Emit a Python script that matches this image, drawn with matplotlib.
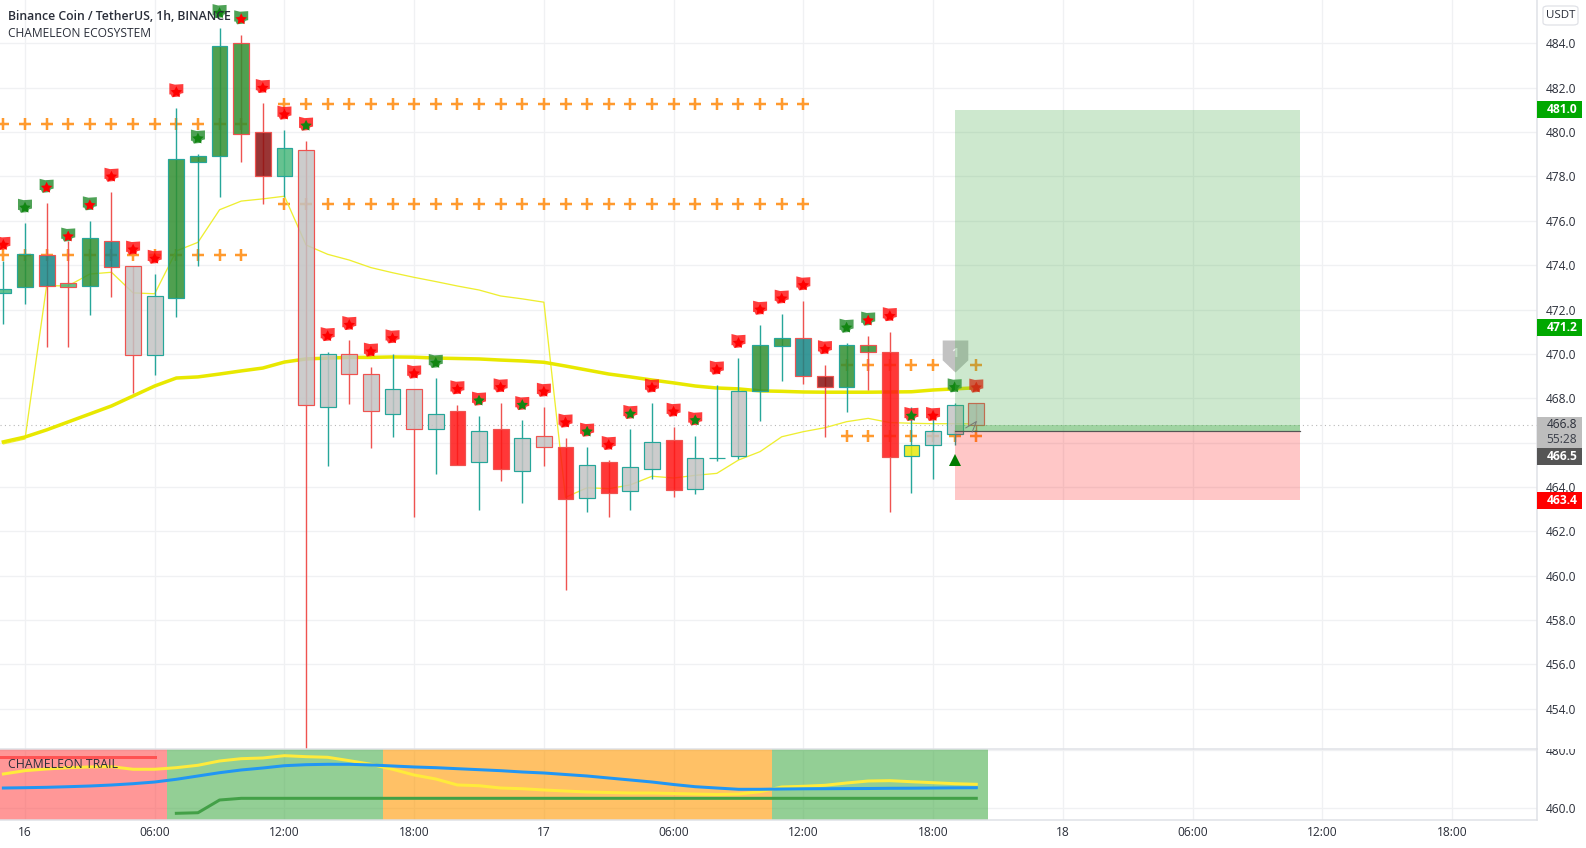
import matplotlib
matplotlib.use("Agg")
import matplotlib.pyplot as plt
from matplotlib.colors import to_rgba
from matplotlib.path import Path
from matplotlib.patches import Rectangle, FancyBboxPatch
from matplotlib import transforms as mtrans
from matplotlib.transforms import Bbox

plt.rcParams['font.family'] = ['Open Sans', 'DejaVu Sans']

hours = list(range(-1, 45))
highs = [474.19,475.90,476.80,475.09,475.99,477.30,473.98,473.60,481.09,479.01,484.70,484.38,481.31,480.10,479.60,
         470.09,470.63,469.41,469.99,468.40,468.91,467.68,467.20,467.78,467.02,467.60,466.21,465.80,465.21,466.61,467.78,466.70,466.30,
         468.60,469.81,471.30,471.78,472.37,469.50,470.48,470.81,470.99,467.60,467.47,467.77,467.77]
body_top = [472.91,474.49,474.47,473.18,475.21,475.08,473.98,472.60,478.78,478.91,483.87,484.01,479.99,479.27,479.18,
            469.98,469.98,469.08,468.40,468.40,467.27,467.41,466.51,466.60,466.19,466.28,465.79,464.97,465.11,464.89,466.01,466.10,465.29,
            465.30,468.31,470.39,470.70,470.70,468.99,470.39,470.39,470.07,465.88,466.51,467.68,467.77]
body_bot = [472.76,473.00,473.07,473.00,473.07,473.90,469.95,469.95,472.51,478.67,478.91,479.90,478.01,478.01,467.68,
            467.59,469.08,467.41,467.27,466.60,466.60,464.97,465.11,464.80,464.70,465.79,463.47,463.49,463.71,463.80,464.80,463.87,463.89,
            465.29,465.38,468.31,470.37,468.99,468.49,468.49,470.07,465.36,465.38,465.88,466.37,466.78]
lows = [471.35,472.25,470.31,470.31,471.77,472.58,468.24,469.05,471.68,473.98,477.09,478.67,476.77,477.09,452.00,
        464.96,467.75,465.77,466.26,462.66,464.60,464.97,462.97,464.28,463.29,464.96,459.36,462.88,462.66,462.97,464.37,463.56,463.69,
        465.17,465.26,466.99,468.79,468.66,466.26,467.39,468.38,462.88,463.71,464.37,465.88,466.52]
# g=green m=mint t=teal d=dark red e=grey r=red y=yellow
body_kind = ['m','g','t','m','g','t','e','e','g','g','g','g','d','m','e',
             'e','e','e','e','e','e','r','e','r','e','e','r','e','r','e','e','r','e',
             'm','e','g','g','t','d','g','g','r','y','e','e','e']
body_edge = ['t','t','r','r','t','r','r','t','t','t','t','r','r','t','r',
             't','r','r','t','r','t','r','t','r','t','r','r','t','r','t','t','r','t',
             't','t','t','t','r','r','t','r','r','t','t','t','r']

flag_price = [475.00,476.68,477.58,475.38,476.79,478.08,474.79,474.38,481.89,479.80,485.46,485.18,482.08,480.88,480.38,
              470.89,471.39,470.19,470.79,469.20,469.68,468.49,467.98,468.58,467.78,468.38,466.99,466.58,465.98,467.38,468.57,467.48,467.09,
              469.38,470.58,472.08,472.58,473.18,470.30,471.27,471.59,471.79,467.29,467.29,468.58,468.57]
flag_color = list("rggggrrrrgggrrr" "rrrrrgrrrrrrrrrrrr" "rrrrrrggrrrgr")
star_color = list("rgrrrrrrrgg" "rrrg" "rrrrrgrgrgrrgrgrrg" "rrrrrrgrrgrgr")

trail_thin = [465.94,466.16,473.07,473.07,473.60,473.68,472.75,472.71,474.64,475.03,476.50,476.89,476.99,477.11,474.91,474.49,474.23,473.89,473.66,473.45,473.26,473.06,472.88,472.61,472.48,472.33,
              463.53,463.96,463.92,464.09,464.48,464.40,464.52,464.61,465.21,465.59,466.26,466.49,466.67,466.94,467.09,466.90,466.87,466.85,466.85,466.84]
ema_thick = [466.03,466.25,466.57,466.93,467.29,467.65,468.10,468.55,468.91,468.96,469.09,469.23,469.36,469.63,469.77,469.81,469.84,469.84,469.86,469.85,469.81,469.79,469.77,469.72,469.68,469.62,
             469.45,469.27,469.09,468.96,468.82,468.69,468.55,468.46,468.42,468.33,468.31,468.28,468.27,468.27,468.27,468.28,468.29,468.37,468.42,468.47]

plus_rows = [
    (list(range(12, 37)), 481.27),
    (list(range(-1, 11)), 480.37),
    (list(range(12, 37)), 476.76),
    (list(range(-1, 11)), 474.46),
    (list(range(38, 45)), 469.50),
    (list(range(38, 45)), 466.30),
]

position_span = (43.0, 58.95)
position_entry = 466.5
position_band = 466.8
position_target = 481.0
position_stop = 463.4
last_price = 466.8

price_ticks = [454, 456, 458, 460, 462, 464, 468, 470, 472, 474, 476, 478, 480, 482, 484]
grid_extra = [466]
sub_ticks = [460, 480]
time_pos = [0, 6, 12, 18, 24, 30, 36, 42, 48, 54, 60, 66]
time_labels = ['16', '06:00', '12:00', '18:00', '17', '06:00', '12:00', '18:00', '18', '06:00', '12:00', '18:00']

zone_edges = [-2, 6.55, 16.57, 34.55, 44.55]
zone_colors = ['#ff5252', '#4caf4e', '#ff9800', '#4caf4e']

sub_yellow = [471.77,472.90,473.48,473.93,474.17,474.27,473.38,473.38,473.93,474.75,476.22,477.01,477.25,478.04,477.70,477.49,476.33,475.09,473.38,471.42,470.05,468.00,467.75,466.96,466.72,
              466.28,465.93,465.59,465.42,465.25,465.25,465.08,464.90,464.73,464.90,465.69,467.31,467.55,467.89,468.68,469.36,469.47,469.12,468.78,468.44,468.23]
sub_blue = [466.96,467.07,467.20,467.41,467.65,467.99,468.44,469.02,469.95,471.08,472.21,473.14,473.82,474.61,474.95,475.09,475.09,474.85,474.51,474.17,473.93,473.58,473.24,472.90,472.45,
            472.11,471.59,471.08,470.39,469.71,469.02,468.16,467.41,466.96,466.52,466.52,466.62,466.69,466.72,466.76,466.79,466.86,466.89,466.96,467.03,467.07]
sub_green_x = list(range(7, 45))
sub_green = [458.29,458.49,462.85,463.43,463.43,463.43,463.43,463.43,463.43,463.43,463.43,463.43,463.43,463.43,463.43,463.43,463.43,463.43,463.43,
             463.43,463.43,463.43,463.43,463.43,463.43,463.43,463.43,463.43,463.43,463.43,463.43,463.43,463.43,463.43,463.43,463.43,463.43,463.43]
sub_red_x = list(range(-2, 7))
sub_red = [477.49,477.49,477.49,477.49,477.49,477.49,477.49,477.49,477.49]

FILL = {'g': '#318f31', 'm': '#4bb87d', 't': '#168686', 'd': '#891111',
        'e': '#c3c3c3', 'r': '#ff1515', 'y': '#e9e90b'}
EDGE = {'t': '#26a69a', 'r': '#ef5350'}
FLAG = {'r': '#ff1a1a', 'g': '#2f9238'}
STAR = {'r': '#ff0000', 'g': '#128612'}
BORDER = '#dfe1e6'
GRID = '#f0f1f3'
TEXT = '#2a2e39'

W, H = 1586, 848
AX_R, SEP, BOT = 1536.7, 748.5, 820.0
fig = plt.figure(figsize=(W / 100, H / 100), dpi=100, facecolor='white')
ax = fig.add_axes([0, (H - SEP) / H, AX_R / W, SEP / H])
ax2 = fig.add_axes([0, (H - BOT) / H, AX_R / W, (BOT - SEP) / H], sharex=ax)
px = 72 / 100  # points per pixel

ax.set_xlim(-1.156, 69.92)
ax.set_ylim(452.2, 485.96)
ax2.set_ylim(456.0, 480.5)

for a in (ax, ax2):
    a.set_axisbelow(True)
    a.grid(True, color=GRID, lw=1 * px * 1.3)
    for s in ('left', 'top', 'bottom', 'right'):
        a.spines[s].set_visible(False)
    a.yaxis.tick_right()
    a.tick_params(length=0, labelsize=12 * px, labelcolor=TEXT, pad=9.5 * px)
    a.spines['right'].set_visible(True)
    a.spines['right'].set_color(BORDER)
    a.spines['right'].set_linewidth(1.5 * px)

ax.set_xticks(time_pos)
ax.tick_params(axis='x', labelbottom=False)
ax.set_yticks(price_ticks)
ax.set_yticklabels([f'{v:.1f}' for v in price_ticks])
for v in grid_extra:
    ax.axhline(v, color=GRID, lw=1 * px * 1.3, zorder=0.5)
ax2.set_xticks(time_pos)
ax2.set_xticklabels(time_labels)
ax2.tick_params(axis='x', pad=6 * px)
ax2.set_yticks(sub_ticks)
ax2.set_yticklabels([f'{v:.1f}' for v in sub_ticks])
for s in ('top', 'bottom'):
    ax2.spines[s].set_visible(True)
    ax2.spines[s].set_color(BORDER)
    ax2.spines[s].set_linewidth(1.5 * px)
for lab in ax2.get_yticklabels():
    lab.set_clip_on(True)
    lab.set_clip_box(Bbox([[AX_R, H - BOT], [W, H - SEP]]))

# plus rows
for xs, p in plus_rows:
    ax.plot(xs, [p] * len(xs), ls='none', marker='+', ms=12.5 * px, mew=2.5 * px,
            color='#ff9a2e', zorder=2, clip_on=True)

# trend lines
ax.plot(hours, trail_thin, color='#eeee30', lw=1.3 * px, zorder=2.2)
ax.plot(hours, ema_thick, color='#e8e800', lw=3.5 * px, zorder=2.3)
ax.axhline(last_price, color='#b8b8b8', lw=1.1 * px, ls=(0, (1, 3)), zorder=2.1)

# candles
ax.vlines(hours, lows, highs, colors=[EDGE[e] for e in body_edge], lw=1.4 * px, zorder=3)
ax.bar(hours, [t - b for t, b in zip(body_top, body_bot)], bottom=body_bot, width=0.73,
       color=[to_rgba(FILL[k], 0.85) for k in body_kind],
       edgecolor=[EDGE[e] for e in body_edge], linewidth=1.2 * px, zorder=3.2)

# flags with stars
flag_path = Path([(-.5, .5), (-.1, .4), (.5, .44), (.5, -.2), (.3, -.25), (.2, -.45),
                  (-.3, -.5), (-.4, -.3), (-.5, -.3), (-.5, .5)])
star_off = mtrans.offset_copy(ax.transData, fig=fig, x=0, y=-2.0, units='dots')
ax.scatter(hours, flag_price, s=(14 * px) ** 2, marker=flag_path,
           c=[to_rgba(FLAG[c], 0.85) for c in flag_color], linewidths=0, zorder=4)
ax.scatter(hours, flag_price, s=(12 * px) ** 2, marker=(5, 1, 0),
           c=[STAR[c] for c in star_color], linewidths=0, zorder=4.1, transform=star_off)

# pin, triangle, cursor
pin_path = Path([(-.4, .5), (.4, .5), (.4, -.12), (0, -.5), (-.4, -.12), (-.4, .5)])
pin_x, pin_price = 43, 469.90
ax.scatter([pin_x], [pin_price], s=(32 * px) ** 2, marker=pin_path, c='#c2c2c2', linewidths=0, zorder=4.5)
ax.text(pin_x, pin_price + 0.1, '1', color='#eeeeee', fontsize=13 * px, fontweight='bold', ha='center', va='center', zorder=4.6)
ax.plot([43], [465.21], marker='^', ms=12 * px, color='#007b00', mew=0, ls='none', zorder=7)
cursor_path = Path([(-.5, -.1), (.5, .5), (.1, -.5)])
ax.scatter([43.75], [466.7], s=(11 * px) ** 2, marker=cursor_path, facecolors='none',
           edgecolors='#777777', linewidths=1 * px, zorder=7)

# position tool
x0, x1 = position_span
ax.fill_between([x0, x1], position_entry, position_target, color='#4caf50', alpha=0.28, lw=0, zorder=6)
ax.fill_between([x0, x1], position_entry, position_stop, color='#ff0000', alpha=0.22, lw=0, zorder=6)
ax.fill_between([x0, x1], position_entry, position_band, color='#4caf50', alpha=0.35, lw=0, zorder=6)
ax.plot([x0, x1], [position_entry, position_entry], color='#555555', lw=1.2 * px, zorder=6.2)

# price tags: the axis stacks colliding tags, so each has its own display level
tr = ax.get_yaxis_transform()
tag_w = (1582 - AX_R) / AX_R
tag_x = 1546.5 / AX_R
bar_h = 8.5 / 22.17


def tag(level, label, bg, fg, weight='bold', up=bar_h, down=bar_h):
    ax.add_patch(Rectangle((1.0, level - down), tag_w, up + down, transform=tr, facecolor=bg,
                           edgecolor='none', clip_on=False, zorder=8))
    ax.text(tag_x, level, label, transform=tr, color=fg, fontsize=12 * px, fontweight=weight,
            va='center', ha='left', clip_on=False, zorder=9)


tag(position_target, '481.0', '#00a800', 'white')
tag(471.2, '471.2', '#00a800', 'white')
tag(last_price, '466.8', '#bdbdbd', '#2a2e39', weight='normal', up=8 / 22.17, down=23 / 22.17)
ax.annotate('55:28', xy=(tag_x, last_price), xycoords=tr, xytext=(0, -15 * px), textcoords='offset points',
            color='#3a3e49', fontsize=12 * px, va='center', ha='left', annotation_clip=False, zorder=9)
tag(465.36, '466.5', '#555555', 'white')
tag(position_stop, '463.4', '#ff0000', 'white')

# currency button
fig.add_artist(FancyBboxPatch((1543 / W, (H - 25) / H), 35 / W, 19 / H, transform=fig.transFigure,
                              boxstyle='round,pad=0,rounding_size=0.003', facecolor='white',
                              edgecolor=BORDER, lw=1.2 * px))
fig.text(1560.5 / W, (H - 15.5) / H, 'USDT', color=TEXT, fontsize=11.5 * px, ha='center', va='center')

# titles
fig.text(8 / W, (H - 16.5) / H, 'Binance Coin / TetherUS, 1h, BINANCE', color='#2a2e39',
         fontsize=12.2 * px, fontweight='semibold', va='center', zorder=20)
fig.text(8 / W, (H - 33.5) / H, 'CHAMELEON ECOSYSTEM', color='#2a2e39', fontsize=12 * px, va='center', zorder=20)

# lower pane
for i, c in enumerate(zone_colors):
    ax2.axvspan(zone_edges[i], zone_edges[i + 1], color=c, alpha=0.6, lw=0, zorder=1)
ax2.plot(sub_red_x, sub_red, color='#ff5252', lw=3 * px, zorder=3)
ax2.plot(hours, sub_yellow, color='#ffeb3b', lw=3 * px, zorder=3)
ax2.plot(hours, sub_blue, color='#2196f3', lw=3 * px, zorder=3.1)
ax2.plot(sub_green_x, sub_green, color='#43a047', lw=3 * px, zorder=3)
fig.text(8 / W, (H - 765) / H, 'CHAMELEON TRAIL', color='#2a2e39', fontsize=12.2 * px, va='center', zorder=20)

fig.savefig('out.png', dpi=100)
